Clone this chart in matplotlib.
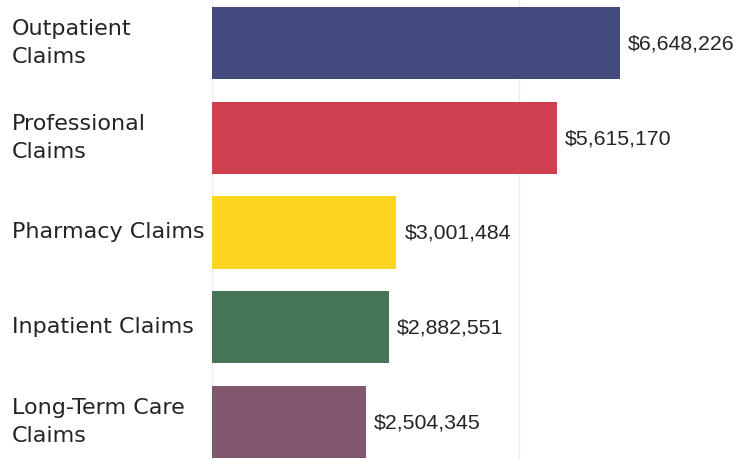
import matplotlib
matplotlib.use("Agg")
import matplotlib.pyplot as plt
from matplotlib.ticker import FixedLocator

categories = ["Outpatient\nClaims", "Professional\nClaims", "Pharmacy Claims",
              "Inpatient Claims", "Long-Term Care\nClaims"]
values = [6648226, 5615170, 3001484, 2882551, 2504345]
colors = ["#434a7e", "#cf3f4f", "#fdd622", "#447555", "#80576f"]
value_labels = ["$6,648,226", "$5,615,170", "$3,001,484", "$2,882,551", "$2,504,345"]
grid_values = [0, 5000000]

W, H = 746, 460
fig = plt.figure(figsize=(W / 100, H / 100), dpi=100)
ax = fig.add_axes([212 / W, 0, (W - 212) / W, 1])

px_per_unit = 61.4 / 1e6
ax.set_xlim(0, (W - 212) / px_per_unit)
pitch = 94.75
ax.set_ylim(4 + 37 / pitch, -44 / pitch)

ypos = list(range(len(categories)))
ax.barh(ypos, values, height=0.76, color=colors, zorder=2)

for s in ax.spines.values():
    s.set_visible(False)
ax.xaxis.set_major_locator(FixedLocator(grid_values))
ax.grid(axis="x", color="#ececec", linewidth=1, zorder=0)
ax.tick_params(axis="x", length=0, labelbottom=False)
ax.set_yticks([])

for y, cat, v, vl in zip(ypos, categories, values, value_labels):
    ax.annotate(cat, xy=(12 / W, y), xycoords=("figure fraction", "data"),
                xytext=(0, 1), textcoords="offset pixels",
                ha="left", va="center", fontsize=16, color="#252423",
                linespacing=1.5, family="DejaVu Sans")
    ax.annotate(vl, xy=(v, y), xytext=(8, 0), textcoords="offset pixels",
                ha="left", va="center", fontsize=15.3, color="#252423",
                family="Liberation Sans")

fig.savefig("out.png", dpi=100)
